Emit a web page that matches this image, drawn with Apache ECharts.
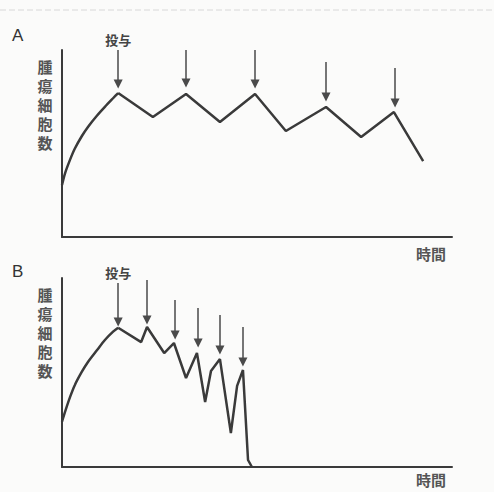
<!DOCTYPE html>
<html>
<head>
<meta charset="utf-8">
<script src="https://cdn.jsdelivr.net/npm/echarts@6/dist/echarts.min.js"></script>
<style>
html,body{margin:0;padding:0;background:#fbfbfa;}
#c{width:494px;height:492px;}
</style>
</head>
<body>
<div id="c"></div>
<script>
// Panel A: time (0-100) vs tumour cell count (0-100)
const growthA = [[0,27.8],[0.8,34.2],[2.1,41.5],[3.3,47.3],[5.1,54.0],[6.7,59.0],[9.0,65.0],[11.0,69.6],[13.1,74.2],[14.4,77.0]];
const cycleA = [[14.4,77.0],[23.3,64.2],[31.8,76.5],[40.5,61.5],[49.5,76.5],[57.4,56.7],[67.7,69.5],[76.7,53.5],[85.1,66.8],[92.6,40.6]];
// arrows: [x, yTop, yTip]
const dosesA = [[14.4,100,81.8],[31.8,100,82.4],[49.5,100,81.8],[67.7,93.6,74.9],[85.4,90.4,71.7]];

// Panel B
const growthB = [[0,24.0],[0.8,29.3],[2.1,37.2],[3.3,43.4],[5.1,50.4],[6.7,55.7],[9.0,61.9],[11.0,67.2],[13.1,71.6],[14.4,73.7]];
const cycleB = [[14.4,73.7],[20.3,66.1],[21.8,74.1],[26.2,60.3],[28.7,65.6],[31.8,47.1],[34.6,60.3],[36.7,34.4],[38.2,50.8],[40.5,57.1],[43.3,18.0],[44.9,42.9],[46.4,51.3],[47.7,3.7],[48.7,0]];
const dosesB = [[14.4,97.4,76.7],[21.8,98.9,77.8],[29.0,88.4,69.8],[34.9,84.1,65.6],[40.5,80.4,61.9],[46.4,74.1,55.6]];

const panelLabels = ['A','B'];
const yName = '腫瘍細胞数';
const xName = '時間';
const doseLabel = '投与';

const ink = '#3a3a3a';
const font = '"Noto Sans CJK JP", "Noto Sans", sans-serif';

function arrows(doses){
  return {
    silent: true,
    symbol: ['none','triangle'],
    symbolSize: 9,
    lineStyle: {color: '#4a4a4a', width: 1.5, type: 'solid'},
    data: doses.map((d,i) => [
      {coord:[d[0], d[1]], label: {show: i===0, position:'start', formatter: doseLabel, color:'#444', fontSize:13, fontFamily: font, fontWeight:'bold', distance: 4}},
      {coord:[d[0], d[2]]}
    ]),
    label: {show:false}
  };
}

const grids = [
  {left:62, top:50, width:390, height:187},
  {left:62, top:278, width:390, height:189}
];

const axisCommon = {
  type:'value', min:0, max:100,
  axisLine:{show:true, onZero:false, lineStyle:{color:ink, width:2}},
  axisTick:{show:false}, axisLabel:{show:false}, splitLine:{show:false}
};

const lineCommon = {type:'line', showSymbol:false, symbol:'none', lineStyle:{color:ink, width:2.5}, silent:true, z:3};

function vertical(text, x, y0){
  return text.split('').map((ch,i) => ({type:'text', x:x, y:y0 + i*19, style:{text:ch, font:'bold 15px ' + font, fill:'#555', align:'center'}}));
}

const option = {
  animation:false,
  backgroundColor:'#fbfbfa',
  grid: grids,
  xAxis: [Object.assign({gridIndex:0}, axisCommon), Object.assign({gridIndex:1}, axisCommon)],
  yAxis: [Object.assign({gridIndex:0}, axisCommon), Object.assign({gridIndex:1}, axisCommon)],
  series: [
    Object.assign({}, lineCommon, {xAxisIndex:0, yAxisIndex:0, data: growthA, smooth:0.3}),
    Object.assign({}, lineCommon, {xAxisIndex:0, yAxisIndex:0, data: cycleA, markLine: arrows(dosesA)}),
    Object.assign({}, lineCommon, {xAxisIndex:1, yAxisIndex:1, data: growthB, smooth:0.3}),
    Object.assign({}, lineCommon, {xAxisIndex:1, yAxisIndex:1, data: cycleB, markLine: arrows(dosesB)})
  ],
  graphic: [
    {type:'line', shape:{x1:0,y1:10,x2:494,y2:10}, style:{stroke:'#d8d8d8', lineWidth:1, lineDash:[6,3]}},
    {type:'text', left:12, top:27, style:{text:panelLabels[0], font:'17px "Liberation Sans", sans-serif', fill:'#333'}},
    {type:'text', left:12, top:263, style:{text:panelLabels[1], font:'17px "Liberation Sans", sans-serif', fill:'#333'}},
    ...vertical(yName, 45, 59),
    ...vertical(yName, 45, 287),
    {type:'text', x:446, y:246, style:{text:xName, font:'bold 15px ' + font, fill:'#555', align:'right'}},
    {type:'text', x:446, y:472, style:{text:xName, font:'bold 15px ' + font, fill:'#555', align:'right'}}
  ]
};

const chart = echarts.init(document.getElementById('c'), null, {renderer:'svg'});
chart.setOption(option);
</script>
</body>
</html>
